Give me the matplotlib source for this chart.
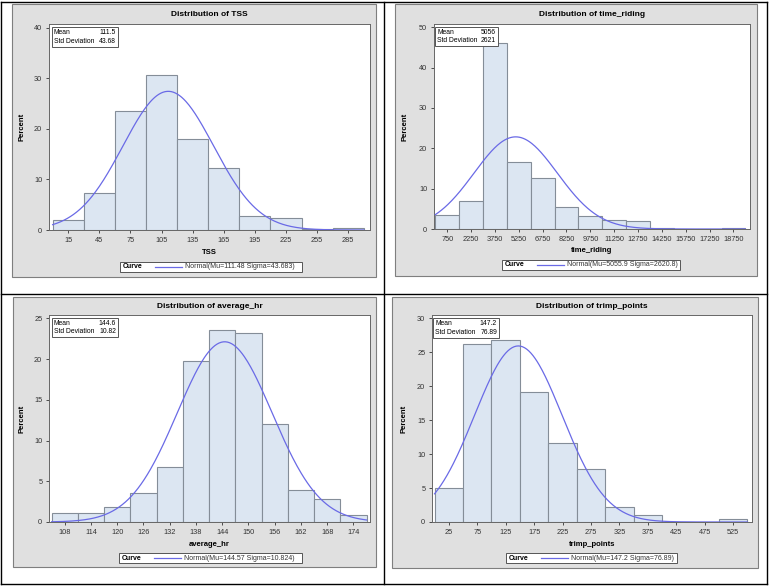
import numpy as np
import matplotlib
matplotlib.use("Agg")
import matplotlib.pyplot as plt
from matplotlib.patches import Rectangle
from matplotlib.lines import Line2D

plt.rcParams['font.family'] = ['Liberation Sans', 'DejaVu Sans']

W, H = 771, 587

# ---- data (percent per bin) ----
tss_mids = [15, 45, 75, 105, 135, 165, 195, 225, 255, 285]
tss_pct = [2.0, 7.3, 23.5, 30.6, 17.9, 12.3, 2.7, 2.4, 0.15, 0.3]
tss_yticks = [0, 10, 20, 30, 40]

time_mids = [750, 2250, 3750, 5250, 6750, 8250, 9750, 11250, 12750, 14250, 15750, 17250, 18750]
time_pct = [3.4, 7.0, 46.1, 16.5, 12.6, 5.5, 3.1, 2.3, 2.1, 0.25, 0.0, 0.0, 0.25]
time_yticks = [0, 10, 20, 30, 40, 50]

hr_mids = [108, 114, 120, 126, 132, 138, 144, 150, 156, 162, 168, 174]
hr_pct = [1.1, 1.1, 1.8, 3.55, 6.7, 19.8, 23.5, 23.2, 12.0, 3.9, 2.85, 0.8]
hr_yticks = [0, 5, 10, 15, 20, 25]

trimp_mids = [25, 75, 125, 175, 225, 275, 325, 375, 425, 475, 525]
trimp_pct = [4.95, 26.3, 26.8, 19.1, 11.7, 7.8, 2.2, 1.1, 0.0, 0.0, 0.4]
trimp_yticks = [0, 5, 10, 15, 20, 25, 30]

# stats shown in the inset / legend
names = ["TSS", "time_riding", "average_hr", "trimp_points"]
means = ["111.5", "5056", "144.6", "147.2"]
stds = ["43.68", "2621", "10.82", "76.89"]
mus = [111.48, 5055.9, 144.57, 147.2]
sigmas = [43.683, 2620.8, 10.824, 76.89]
mu_txt = ["111.48", "5055.9", "144.57", "147.2"]
sigma_txt = ["43.683", "2620.8", "10.824", "76.89"]

FILL = '#DCE6F2'
EDGE = '#848D98'
CURVE = '#6A6AE6'
GREY = '#E0E0E0'


def fig_box(x0, y0, x1, y1):
    # pixel box (top-left origin) -> figure fraction [l, b, w, h]
    return [x0 / W, 1 - y1 / H, (x1 - x0) / W, (y1 - y0) / H]


def fx(x):
    return x / W


def fy(y):
    return 1 - y / H


# layout of each panel in pixels
panels = [
    dict(grey=(12, 4, 376, 277), plot=(49, 24, 370, 230), title_y=15, xlab_y=253, ylab_x=22,
         inset=(52, 27, 118, 47), legend=(120, 262, 302, 272), xlim=(-3.5, 306), ylim=(0, 40.7)),
    dict(grey=(395, 4, 757, 276), plot=(434, 24, 750, 229), title_y=15, xlab_y=251, ylab_x=405,
         inset=(435, 27, 498, 46), legend=(502, 260, 680, 270), xlim=(-80, 19790), ylim=(0, 50.8)),
    dict(grey=(13, 297, 376, 567), plot=(49, 315, 370, 522), title_y=306, xlab_y=544, ylab_x=22,
         inset=(52, 318, 118, 337), legend=(119, 553, 302, 563), xlim=(104.4, 177.8), ylim=(0, 25.4)),
    dict(grey=(392, 297, 758, 568), plot=(432, 315, 752, 522), title_y=306, xlab_y=544, ylab_x=404,
         inset=(433, 318, 499, 338), legend=(506, 553, 677, 563), xlim=(-4.5, 558), ylim=(0, 30.5)),
]

all_mids = [tss_mids, time_mids, hr_mids, trimp_mids]
all_pct = [tss_pct, time_pct, hr_pct, trimp_pct]
all_yticks = [tss_yticks, time_yticks, hr_yticks, trimp_yticks]


def draw_panel(fig, i):
    p = panels[i]
    mids = np.array(all_mids[i], dtype=float)
    pct = all_pct[i]
    binw = mids[1] - mids[0]

    # grey graph background (behind the axes)
    gx0, gy0, gx1, gy1 = p['grey']
    fig.patches.append(Rectangle((fx(gx0), fy(gy1)), (gx1 - gx0) / W, (gy1 - gy0) / H,
                                 transform=fig.transFigure, facecolor=GREY,
                                 edgecolor='#7F7F7F', lw=0.8, zorder=-2))

    ax = fig.add_axes(fig_box(*p['plot']))
    ax.set_zorder(1)
    ax.set_facecolor('white')
    ax.bar(mids, pct, width=binw, facecolor=FILL, edgecolor=EDGE, lw=0.8, zorder=2)

    # fitted normal curve, scaled to percent per bin
    xs = np.linspace(mids[0] - binw / 2, mids[-1] + binw / 2, 300)
    ys = 100 * binw * np.exp(-0.5 * ((xs - mus[i]) / sigmas[i]) ** 2) / (sigmas[i] * np.sqrt(2 * np.pi))
    ax.plot(xs, ys, color=CURVE, lw=0.9, zorder=3)

    ax.set_xlim(*p['xlim'])
    ax.set_ylim(*p['ylim'])
    ax.set_xticks(mids)
    ax.set_xticklabels([f"{int(m)}" for m in mids])
    ax.set_yticks(all_yticks[i])
    ax.tick_params(labelsize=5.3, length=2.5, width=0.6, pad=2.3, colors='#333333')
    for s in ax.spines.values():
        s.set_color('#666666')
        s.set_linewidth(0.7)

    # titles and axis labels
    px0, py0, px1, py1 = p['plot']
    cx = (px0 + px1) / 2
    fig.text(fx(cx), fy(p['title_y']), f"Distribution of {names[i]}", ha='center', va='center',
             fontsize=6, fontweight='bold')
    fig.text(fx(cx), fy(p['xlab_y']), names[i], ha='center', va='center',
             fontsize=5.5, fontweight='bold')
    fig.text(fx(p['ylab_x']), fy((py0 + py1) / 2), "Percent", ha='center', va='center',
             rotation=90, fontsize=5.5, fontweight='bold')

    # stats inset
    ix0, iy0, ix1, iy1 = p['inset']
    fig.patches.append(Rectangle((fx(ix0), fy(iy1)), (ix1 - ix0) / W, (iy1 - iy0) / H,
                                 transform=fig.transFigure, facecolor='white',
                                 edgecolor='#555555', lw=0.7, zorder=5))
    r1 = iy0 + (iy1 - iy0) * 0.28
    r2 = iy0 + (iy1 - iy0) * 0.72
    fig.text(fx(ix0 + 2), fy(r1), "Mean", ha='left', va='center', fontsize=4.9, zorder=6)
    fig.text(fx(ix1 - 2), fy(r1), means[i], ha='right', va='center', fontsize=4.9, zorder=6)
    fig.text(fx(ix0 + 2), fy(r2), "Std Deviation", ha='left', va='center', fontsize=4.9, zorder=6)
    fig.text(fx(ix1 - 2), fy(r2), stds[i], ha='right', va='center', fontsize=4.9, zorder=6)

    # legend box
    lx0, ly0, lx1, ly1 = p['legend']
    fig.patches.append(Rectangle((fx(lx0), fy(ly1)), (lx1 - lx0) / W, (ly1 - ly0) / H,
                                 transform=fig.transFigure, facecolor='white',
                                 edgecolor='#555555', lw=0.7, zorder=5))
    ly = (ly0 + ly1) / 2
    fig.text(fx(lx0 + 3), fy(ly), "Curve", ha='left', va='center', fontsize=5,
             fontweight='bold', zorder=6)
    fig.lines.append(Line2D([fx(lx0 + 35), fx(lx0 + 62)], [fy(ly), fy(ly)],
                            transform=fig.transFigure, color=CURVE, lw=0.9, zorder=6))
    fig.text(fx(lx0 + 65), fy(ly), f"Normal(Mu={mu_txt[i]} Sigma={sigma_txt[i]})",
             ha='left', va='center', fontsize=5, color='#333333', zorder=6)
    return ax


def draw_table_lines(fig):
    # black cell borders around the four graphs
    segs = [
        ((1, 2), (767, 2)), ((1, 584), (767, 584)),
        ((1, 2), (1, 584)), ((767, 2), (767, 584)),
        ((1, 294), (767, 294)), ((384, 2), (384, 584)),
    ]
    for (x0, y0), (x1, y1) in segs:
        fig.lines.append(Line2D([fx(x0), fx(x1)], [fy(y0), fy(y1)],
                                transform=fig.transFigure, color='black', lw=1.0, zorder=7))


fig = plt.figure(figsize=(W / 100, H / 100), dpi=100)
fig.patch.set_facecolor('white')
for k in range(4):
    draw_panel(fig, k)
draw_table_lines(fig)

plt.savefig("out.png", dpi=100)
